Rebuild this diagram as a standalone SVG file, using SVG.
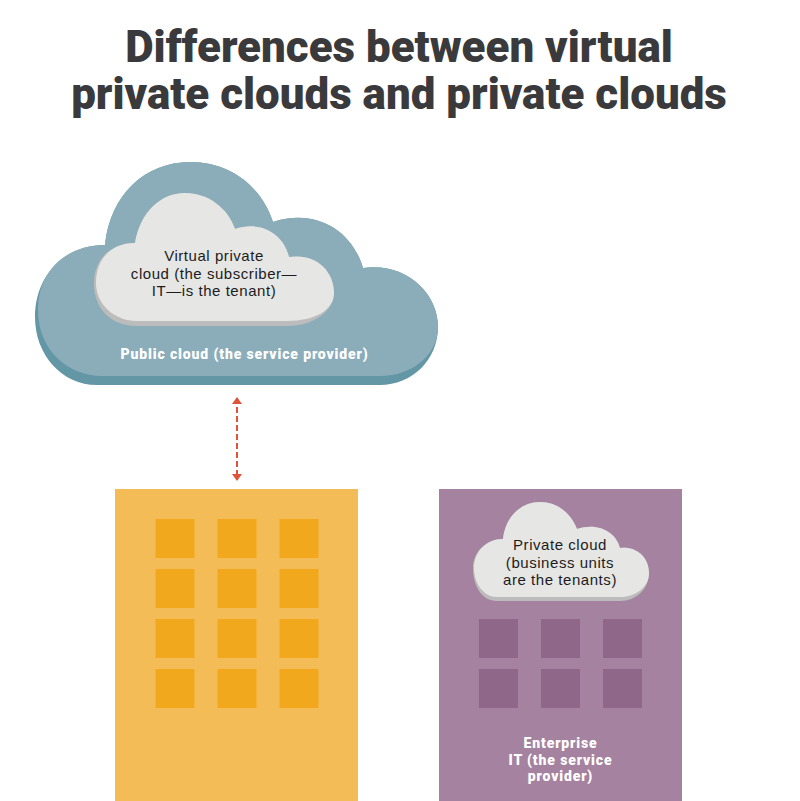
<svg xmlns="http://www.w3.org/2000/svg" width="800" height="801" viewBox="0 0 800 801">
<style>
.title{font:900 43.9px Roboto,"Liberation Sans",sans-serif;fill:#3a3a3c;text-anchor:middle}
.dark{font:400 15px "Liberation Sans",Arial,sans-serif;letter-spacing:.55px;fill:#1c1c1c;text-anchor:middle}
.light{font:900 14px Roboto,"Liberation Sans",sans-serif;letter-spacing:.87px;fill:#fff;text-anchor:middle}
.sy{fill:#f2a81d}.sp{fill:#8f6788}
</style>
<defs>
<marker id="ah" viewBox="0 0 7 10" refX="6" refY="5" markerWidth="7" markerHeight="10" orient="auto-start-reverse" markerUnits="userSpaceOnUse"><path d="M0 0L7 5L0 10Z" fill="#e0533a"/></marker>
</defs>
<rect width="800" height="801" fill="#fff"/>
<text class="title" id="title" x="399" y="62"><tspan x="399" y="62">Differences between virtual</tspan><tspan x="399" y="109">private clouds and private clouds</tspan></text>
<g id="public-cloud">
<path d="M105 245C110 195 145 162 190 162C232 162 262 188 273 222C315 208 352 230 363 268C405 262 438 292 438 327C438 360 412 385 380 385L97 385C62 385 35 355 35 317C35 275 65 245 105 245Z" fill="#6497a6"/>
<path d="M105 245C110 195 145 162 190 162C232 162 262 188 273 222C315 208 352 230 363 268C405 262 438 292 438 327C438 355 412 376 380 376L102 376C68 376 38 350 38 310C38 272 65 245 105 245Z" fill="#8badb9"/>
<text class="light" x="244.500" y="359">Public cloud (the service provider)</text>
</g>
<g id="virtual-private-cloud">
<path d="M135 243C140 213 160 193 185 193C208 193 228 208 235 229C262 220 284 235 289 257C315 253 334 270 334 293C334 310 315 326 287 326L137 326C112 326 94 310 94 283C94 258 112 243 135 243Z" fill="#bdbcbc"/>
<path d="M135 243C140 213 160 193 185 193C208 193 228 208 235 229C262 220 284 235 289 257C315 253 334 270 334 293C334 310 315 321 287 321L137 321C115 321 96 305 96 283C96 258 112 243 135 243Z" fill="#e6e6e5"/>
<text class="dark"><tspan x="214" y="261">Virtual private</tspan><tspan x="214" y="279">cloud (the subscriber—</tspan><tspan x="214" y="296">IT—is the tenant)</tspan></text>
</g>
<g id="connectors">
<line x1="237" y1="398" x2="237" y2="480" stroke="#e0533a" stroke-width="2" stroke-dasharray="6 3" marker-start="url(#ah)" marker-end="url(#ah)"/>
</g>
<g id="building">
<rect x="115" y="489" width="243" height="312" fill="#f4bc57"/>
<rect class="sy" x="155.500" y="519" width="39" height="39"/><rect class="sy" x="217.500" y="519" width="39" height="39"/><rect class="sy" x="279.500" y="519" width="39" height="39"/>
<rect class="sy" x="155.500" y="569" width="39" height="39"/><rect class="sy" x="217.500" y="569" width="39" height="39"/><rect class="sy" x="279.500" y="569" width="39" height="39"/>
<rect class="sy" x="155.500" y="619" width="39" height="39"/><rect class="sy" x="217.500" y="619" width="39" height="39"/><rect class="sy" x="279.500" y="619" width="39" height="39"/>
<rect class="sy" x="155.500" y="669" width="39" height="39"/><rect class="sy" x="217.500" y="669" width="39" height="39"/><rect class="sy" x="279.500" y="669" width="39" height="39"/>
</g>
<g id="enterprise-it">
<rect x="439" y="489" width="243" height="312" fill="#a5829f"/>
<rect class="sp" x="479" y="619" width="39" height="39"/><rect class="sp" x="541" y="619" width="39" height="39"/><rect class="sp" x="603" y="619" width="39" height="39"/>
<rect class="sp" x="479" y="669" width="39" height="39"/><rect class="sp" x="541" y="669" width="39" height="39"/><rect class="sp" x="603" y="669" width="39" height="39"/>
<text class="light"><tspan x="560.500" y="748">Enterprise</tspan><tspan x="560.500" y="765">IT (the service</tspan><tspan x="560.500" y="781">provider)</tspan></text>
</g>
<g id="private-cloud">
<path d="M503 539C505 517 521 502 540 502C557 502 571 513 577 529C598 522 616 532 620 548C636 546 649 557 649 573C649 589 636 601 620 601L497 601C482 601 473 586 473 568C473 552 486 539 503 539Z" fill="#bdbcbc"/>
<path d="M503 539C505 517 521 502 540 502C557 502 571 513 577 529C598 522 616 532 620 548C636 546 649 557 649 573C649 587 636 597 620 597L497 597C484 597 474 584 474 568C474 552 486 539 503 539Z" fill="#e6e6e5"/>
<text class="dark"><tspan x="560" y="550">Private cloud</tspan><tspan x="560" y="568">(business units</tspan><tspan x="560" y="585">are the tenants)</tspan></text>
</g>
</svg>
